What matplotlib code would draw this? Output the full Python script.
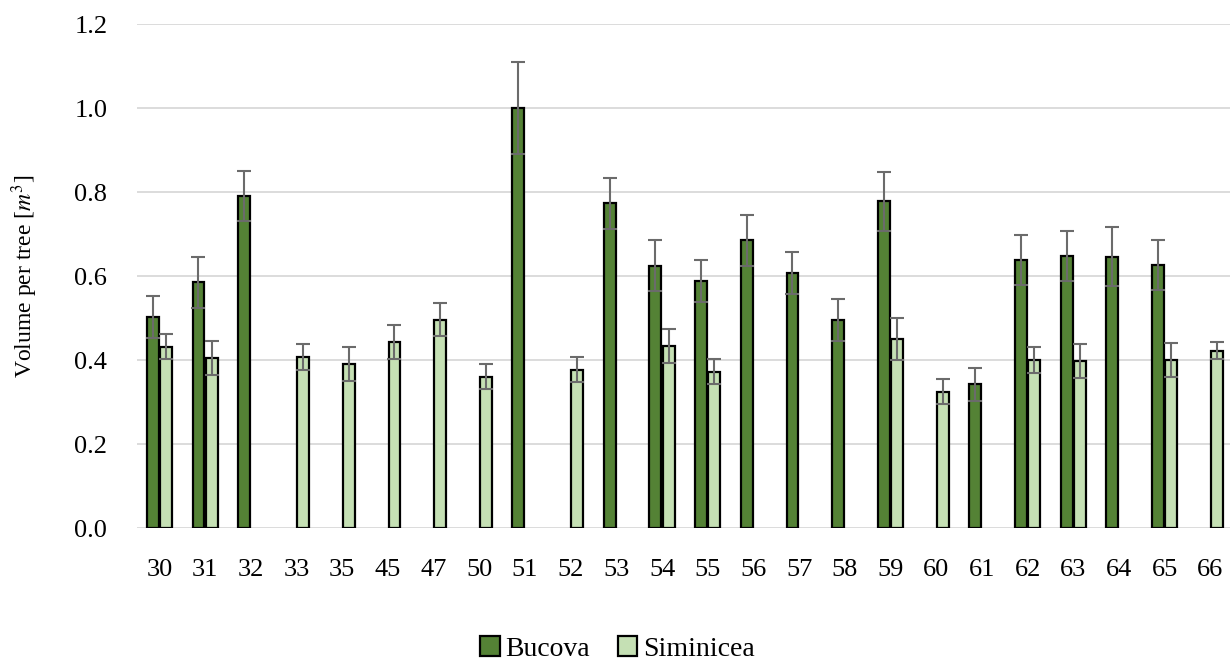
import numpy as np
import matplotlib.pyplot as plt

# plots and their mean volume per tree (nan = not measured)
plots = ["30", "31", "32", "33", "35", "45", "47", "50", "51", "52", "53", "54",
         "55", "56", "57", "58", "59", "60", "61", "62", "63", "64", "65", "66"]

bucova = [0.502, 0.585, 0.790, np.nan, np.nan, np.nan, np.nan, np.nan, 1.000, np.nan, 0.773, 0.625,
          0.588, 0.685, 0.606, 0.495, 0.778, np.nan, 0.342, 0.638, 0.648, 0.646, 0.626, np.nan]
bucova_err = [0.05, 0.06, 0.06, 0, 0, 0, 0, 0, 0.11, 0, 0.06, 0.06,
              0.05, 0.06, 0.05, 0.05, 0.07, 0, 0.04, 0.06, 0.06, 0.07, 0.06, 0]

siminicea = [0.432, 0.405, np.nan, 0.407, 0.391, 0.443, 0.496, 0.360, np.nan, 0.377, np.nan, 0.434,
             0.372, np.nan, np.nan, np.nan, 0.451, 0.325, np.nan, 0.400, 0.397, np.nan, 0.400, 0.422]
siminicea_err = [0.03, 0.04, 0, 0.03, 0.04, 0.04, 0.04, 0.03, 0, 0.03, 0, 0.04,
                 0.03, 0, 0, 0, 0.05, 0.03, 0, 0.03, 0.04, 0, 0.04, 0.02]

plt.rcParams["font.family"] = ["Liberation Serif", "DejaVu Serif"]
plt.rcParams["mathtext.fontset"] = "stix"

fig = plt.figure(figsize=(12.3, 6.63), dpi=100)
ax = fig.add_axes([0.111, 0.2036, 0.889, 0.7602])

x = np.arange(len(plots))
w = 0.26
off = 0.145

series = [
    (bucova, bucova_err, -off, "#548235", "Bucova"),
    (siminicea, siminicea_err, off, "#c5e0b4", "Siminicea"),
]
for vals, errs, dx, color, name in series:
    vals = np.array(vals)
    errs = np.array(errs)
    ok = ~np.isnan(vals)
    ax.bar(x[ok] + dx, vals[ok], width=w, color=color, edgecolor="black",
           linewidth=1.6, label=name, zorder=2)
    ax.errorbar(x[ok] + dx, vals[ok], yerr=errs[ok], fmt="none", ecolor="#6b6b6b",
                elinewidth=1.5, capsize=5, capthick=1.5, zorder=3)

ax.set_ylim(0, 1.2)
ax.set_yticks(np.arange(0, 1.21, 0.2))
ax.set_yticklabels([f"{v:.1f}" for v in np.arange(0, 1.21, 0.2)])
ax.set_xlim(-0.5, 23.43)
ax.set_xticks(x)
ax.set_xticklabels(plots)
ax.tick_params(axis="both", length=0, labelsize=19)
ax.tick_params(axis="x", pad=22)
ax.tick_params(axis="y", pad=21)
ax.grid(axis="y", color="#d9d9d9", linewidth=1.3, zorder=0)
ax.set_axisbelow(True)
for s in ax.spines.values():
    s.set_visible(False)

ax.set_ylabel(r"Volume per tree [$m^3$]", fontsize=17)
ax.yaxis.set_label_coords(-0.088, 0.5)

fig.legend(loc="lower center", bbox_to_anchor=(0.502, -0.036), ncol=2, frameon=False,
           fontsize=20, handlelength=0.7, handleheight=0.7, handletextpad=0.2,
           columnspacing=1.0)

fig.savefig("out.png", dpi=100)
